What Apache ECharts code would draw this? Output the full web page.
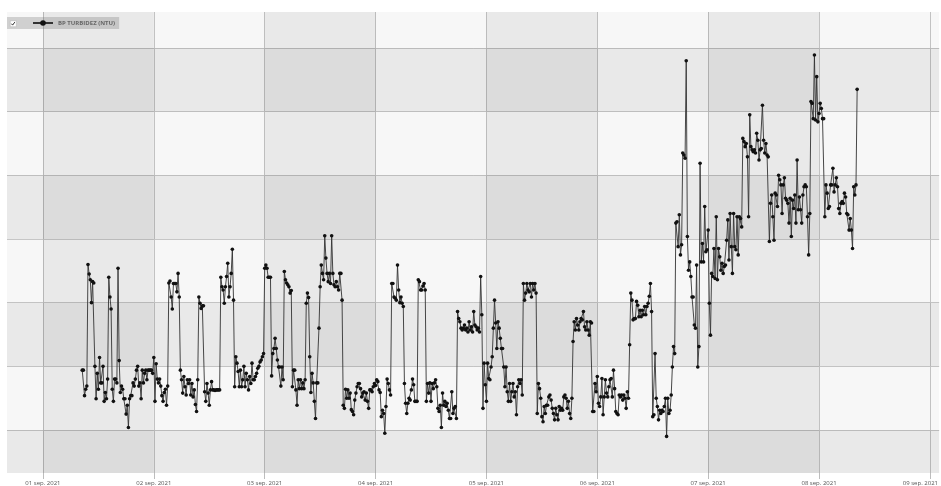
<!DOCTYPE html>
<html>
<head>
<meta charset="utf-8">
<script src="https://cdn.jsdelivr.net/npm/echarts@6/dist/echarts.min.js"></script>
<style>html,body{margin:0;padding:0;background:#fff}#c{width:941px;height:486px}</style>
</head>
<body>
<div id="c"></div>
<script>
const seriesName = 'BP TURBIDEZ (NTU)';
// first reading: 01 sep. 2021 08:30, one reading every 15 minutes
const sampleStart = [2021, 8, 1, 8, 30];
const sampleStepMinutes = 15;
const turbidity = [
19.4,19.4,15.4,16.4,16.9,36.0,34.5,33.6,30.0,33.3,33.1,20.0,14.9,18.9,16.4,21.4,17.4,17.4,20.0,14.5,
15.9,14.9,18.0,34.0,30.9,29.0,16.4,14.5,18.0,18.0,17.4,35.4,20.9,15.9,16.9,16.4,14.9,14.9,12.5,13.9,
10.4,14.9,15.4,15.4,17.4,16.9,18.0,19.4,20.0,16.9,17.4,14.9,19.4,17.4,18.9,19.4,17.9,19.4,19.4,19.4,
19.4,18.9,21.4,14.5,20.4,18.0,17.4,18.0,16.9,15.4,14.5,15.9,16.4,13.9,16.9,33.1,33.4,30.9,29.0,33.0,
33.0,33.0,31.7,34.6,30.9,19.4,17.9,15.8,18.4,16.8,15.5,17.9,17.3,17.9,15.5,17.3,15.2,16.3,14.0,12.9,
17.9,30.9,29.9,29.1,29.5,29.5,16.0,14.5,17.3,15.8,13.9,16.3,17.6,16.3,16.3,16.2,16.3,16.3,16.3,16.3,
34.0,32.5,32.0,29.9,32.5,34.1,36.2,30.9,32.5,34.6,38.4,30.4,16.8,21.5,20.5,19.2,16.8,19.4,16.8,17.9,
20.0,16.8,18.9,17.9,16.3,18.4,17.3,20.5,17.9,17.9,18.4,18.9,19.7,20.0,20.7,21.0,21.5,22.0,
35.4,35.9,35.4,34.0,34.0,34.0,18.5,22.0,22.8,24.4,22.8,21.0,19.9,19.9,16.9,19.9,17.9,
34.9,33.6,33.1,32.8,32.5,31.5,31.9,16.8,19.4,19.4,16.3,13.9,17.9,16.5,17.9,16.5,17.4,16.5,17.9,
29.9,31.5,30.8,21.5,15.9,18.9,17.4,14.5,11.8,17.4,17.4,
26.0,32.5,35.9,34.6,33.6,40.5,37.0,34.6,33.3,34.6,33.0,40.5,34.6,32.8,32.5,33.3,32.5,32.0,34.6,34.6,30.4,
13.9,13.4,16.4,15.0,16.3,15.0,15.8,13.2,12.9,12.4,14.7,15.8,16.8,17.3,17.3,16.5,15.2,15.8,16.0,14.7,
15.8,14.5,13.4,16.3,16.3,16.0,16.8,17.3,17.0,17.9,17.6,16.3,15.9,12.1,13.1,12.6,9.5,13.7,18.0,17.3,16.3,15.5,
33.0,33.0,30.9,30.7,30.4,35.9,32.0,30.0,30.9,29.9,29.4,
17.3,14.2,12.6,14.2,15.0,14.7,16.3,18.0,17.1,14.5,14.5,14.5,
33.6,33.3,32.0,32.0,32.6,33.0,32.0,
14.5,17.3,15.8,17.4,14.5,17.3,16.5,17.4,17.9,16.8,13.4,12.9,13.9,10.4,
15.8,13.9,14.5,13.7,14.2,13.1,11.8,11.8,16.0,12.6,13.4,13.7,11.8,
28.6,27.5,27.0,26.0,25.7,26.0,26.5,25.7,26.0,25.4,27.0,25.7,26.2,25.4,28.6,26.5,26.2,25.7,26.0,25.4,34.1,28.1,
13.4,20.5,17.1,14.5,20.5,18.1,17.9,19.9,21.5,26.0,30.4,26.8,22.8,27.0,26.0,24.4,22.8,22.8,19.9,16.8,
19.9,16.0,14.5,17.3,14.5,16.0,17.3,15.2,16.0,12.4,16.8,17.9,17.3,17.9,15.5,
33.0,30.4,31.5,33.0,32.0,31.7,33.0,30.9,33.0,32.0,33.0,31.5,
12.6,17.3,16.5,15.0,12.1,11.3,13.7,12.6,13.9,13.9,15.2,15.5,14.7,13.4,12.6,11.6,13.4,12.4,11.6,13.7,
13.1,13.4,13.1,15.2,15.5,15.0,13.4,14.5,12.6,11.8,15.0,
23.9,27.0,25.7,27.5,26.5,25.7,27.0,27.5,27.3,28.6,26.2,25.7,27.0,25.7,24.9,27.0,26.8,
12.9,12.9,17.3,16.0,18.4,14.2,13.7,15.2,18.1,12.4,15.2,17.9,15.8,15.2,16.8,17.9,18.1,15.2,19.4,16.5,
12.9,12.6,12.4,15.5,15.2,15.5,14.7,15.5,15.0,13.4,16.0,15.0,
23.4,31.5,30.4,27.3,27.5,27.5,30.2,29.6,27.8,28.8,27.8,28.8,28.1,29.4,28.1,29.4,29.9,31.0,33.0,28.6,
12.1,12.4,22.0,15.0,13.7,11.6,13.1,12.6,13.1,12.9,13.7,15.0,9.0,15.0,12.6,13.1,15.5,19.9,23.1,22.0,
42.5,42.7,38.8,43.8,37.5,39.1,53.5,53.2,52.7,68.0,40.4,35.1,36.4,34.1,30.9,30.9,26.5,26.0,35.9,19.9,23.1,51.9,
36.4,39.3,36.4,45.1,38.0,38.3,41.4,29.9,24.9,34.6,34.1,38.5,33.8,43.5,33.6,38.5,37.2,35.1,36.2,34.6,
35.7,35.9,39.8,43.0,36.7,44.0,38.8,34.6,44.0,38.8,38.3,43.5,37.5,43.5,43.2,41.9,
55.8,55.3,54.5,55.0,52.9,43.5,59.5,54.5,54.0,53.7,54.0,53.5,56.6,55.5,52.4,54.0,54.2,61.0,55.5,53.5,55.0,53.2,52.9,
39.6,45.6,46.9,43.5,39.8,47.2,46.9,45.1,50.0,49.3,48.5,44.0,48.5,49.6,46.4,46.1,45.6,42.5,46.4,40.4,
46.1,44.8,46.9,42.5,52.4,44.6,46.6,44.6,42.5,46.9,48.2,48.5,48.2,43.5,37.5,44.0,
61.6,61.3,58.9,68.9,58.7,65.5,58.4,59.7,61.3,60.5,58.9,58.9,
43.5,48.5,47.2,44.8,45.1,48.5,48.5,51.1,47.4,48.5,49.6,48.2,44.8,44.0,45.6,45.9,45.6,47.2,46.6,44.0,
43.8,41.4,43.2,41.4,38.5,48.2,46.9,48.5,
63.5
];
// axis range (local time)
const axisStart = [2021, 7, 31, 16, 13];
const axisEnd = [2021, 8, 9, 2, 0];
const yMin = 3.25, yMax = 75.65;
// background bands
const shadedDays = [[1, 2], [3, 4], [5, 6], [7, 8]];
const shadedBands = [[3.25, 10], [20, 30], [40, 50], [60, 70]];
const monthLabel = 'sep.';
const yearLabel = '2021';

const t0 = new Date(...sampleStart).getTime();
const step = sampleStepMinutes * 60000;
const points = turbidity.map((v, i) => [t0 + i * step, v]);
const dayMs = (d) => new Date(2021, 8, d, 0, 0).getTime();

const shade = 'rgba(0,0,0,0.055)';
const areas = [];
shadedDays.forEach(([a, b]) => areas.push([{ xAxis: dayMs(a), itemStyle: { color: shade } }, { xAxis: dayMs(b) }]));
shadedBands.forEach(([a, b]) => areas.push([{ yAxis: a, itemStyle: { color: shade } }, { yAxis: b }]));

const chart = echarts.init(document.getElementById('c'), null, { renderer: 'canvas' });
chart.setOption({
  animation: false,
  backgroundColor: '#ffffff',
  grid: { left: 7, right: 0, top: 12, bottom: 13, show: true, backgroundColor: '#f7f7f7', borderWidth: 0 },
  legend: {
    left: 7, top: 17,
    padding: [3, 4, 3, 25],
    backgroundColor: 'rgba(120,120,120,0.3)',
    itemWidth: 20, itemHeight: 7,
    selectedMode: false,
    textStyle: { fontSize: 6, fontWeight: 'bold', color: '#666', fontFamily: 'Open Sans' },
    data: [seriesName]
  },
  graphic: [
    { type: 'rect', left: 10, top: 20.5, shape: { width: 6, height: 6 }, style: { fill: '#fff', stroke: '#b0b0b0', lineWidth: 0.5 }, z: 100 },
    { type: 'polyline', shape: { points: [[11.4, 23.7], [12.6, 25.1], [14.8, 22.1]] }, style: { stroke: '#333', lineWidth: 1, fill: null }, z: 101 }
  ],
  xAxis: {
    type: 'time',
    min: new Date(...axisStart).getTime(),
    max: new Date(...axisEnd).getTime(),
    minInterval: 86400000,
    maxInterval: 86400000,
    axisLine: { show: false },
    axisTick: { show: true, length: 6, lineStyle: { color: '#bdbdbd' } },
    splitLine: { show: true, showMinLine: false, showMaxLine: false, lineStyle: { color: '#c2c2c2', width: 1 } },
    axisLabel: {
      fontSize: 6, color: '#555', margin: 7, fontFamily: 'Open Sans',
      showMinLabel: false, showMaxLabel: false,
      formatter: (val) => {
        const d = new Date(val);
        if (d.getHours() !== 0 || d.getMinutes() !== 0) return '';
        const txt = String(d.getDate()).padStart(2, '0') + ' ' + monthLabel + ' ' + yearLabel;
        if (d.getDate() === 9) return '{r|' + txt + '}';
        return txt;
      },
      rich: { r: { fontSize: 6, color: '#555', fontFamily: 'Open Sans', padding: [0, 19, 0, 0] } }
    }
  },
  yAxis: {
    type: 'value',
    min: yMin, max: yMax,
    splitNumber: 7,
    axisLine: { show: false }, axisTick: { show: false }, axisLabel: { show: false },
    splitLine: { show: true, showMinLine: false, showMaxLine: false, lineStyle: { color: '#c6c6c6', width: 1 } }
  },
  series: [{
    name: seriesName,
    type: 'line',
    data: points,
    showAllSymbol: true,
    symbol: 'circle',
    symbolSize: 3.6,
    itemStyle: { color: '#111' },
    lineStyle: { color: '#333', width: 0.9 },
    markArea: { silent: true, z: 1, data: areas }
  }]
});
</script>
</body>
</html>
